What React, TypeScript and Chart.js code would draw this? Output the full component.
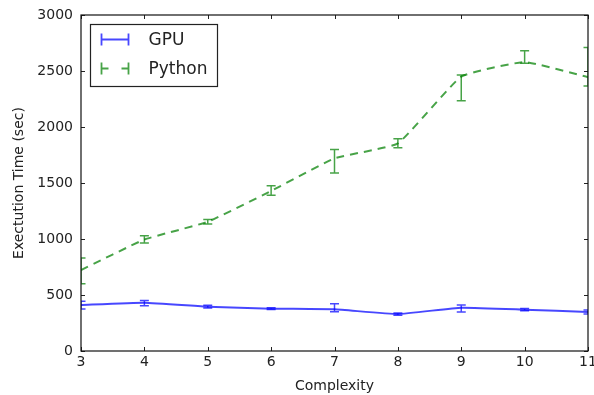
import React, { useEffect, useRef } from "react";
import { Chart, registerables } from "chart.js";

Chart.register(...registerables);

const complexity = [3, 4, 5, 6, 7, 8, 9, 10, 11];

const gpuMean = [411, 431, 396, 378, 372, 330, 387, 369, 348];
const gpuLow = [375, 405, 385, 370, 350, 320, 348, 360, 330];
const gpuHigh = [445, 450, 408, 386, 422, 340, 410, 380, 365];

const pyMean = [723, 995, 1154, 1429, 1720, 1854, 2450, 2580, 2445];
const pyLow = [600, 965, 1135, 1390, 1590, 1815, 2235, 2570, 2365];
const pyHigh = [830, 1030, 1175, 1475, 1800, 1895, 2465, 2680, 2710];

const yTicks = [0, 500, 1000, 1500, 2000, 2500, 3000];
const xTicks = complexity;

const legendLabels = ["GPU", "Python"];

const BLUE = "rgba(0,0,255,0.72)";
const GREEN = "rgba(0,128,0,0.72)";
const FONT = "'DejaVu Sans', sans-serif";

const frameTicksPlugin = {
  id: "frameTicks",
  afterDraw(chart: any) {
    const { ctx, chartArea } = chart;
    const { left, right, top, bottom } = chartArea;
    const xs = chart.scales.x;
    const ys = chart.scales.y;
    ctx.save();
    ctx.strokeStyle = "#222";
    ctx.lineWidth = 1;
    const tl = 4;
    ctx.beginPath();
    xTicks.forEach((v) => {
      const px = Math.round(xs.getPixelForValue(v)) + 0.5;
      ctx.moveTo(px, bottom);
      ctx.lineTo(px, bottom - tl);
      ctx.moveTo(px, top);
      ctx.lineTo(px, top + tl);
    });
    yTicks.forEach((v) => {
      const py = Math.round(ys.getPixelForValue(v)) + 0.5;
      ctx.moveTo(left, py);
      ctx.lineTo(left + tl, py);
      ctx.moveTo(right, py);
      ctx.lineTo(right - tl, py);
    });
    ctx.stroke();
    ctx.lineWidth = 1.2;
    ctx.strokeStyle = "#111";
    ctx.strokeRect(left, top, right - left, bottom - top);
    ctx.restore();
  },
};

const errorBarPlugin = {
  id: "errorBars",
  afterDatasetsDraw(chart: any) {
    const { ctx, chartArea } = chart;
    const xs = chart.scales.x;
    const ys = chart.scales.y;
    ctx.save();
    ctx.beginPath();
    ctx.rect(chartArea.left, chartArea.top, chartArea.right - chartArea.left, chartArea.bottom - chartArea.top);
    ctx.clip();
    chart.data.datasets.forEach((ds: any) => {
      const lows: number[] = ds.errLow;
      const highs: number[] = ds.errHigh;
      ctx.strokeStyle = ds.borderColor;
      ctx.lineWidth = 1.5;
      ctx.setLineDash([]);
      ds.data.forEach((pt: any, i: number) => {
        const px = xs.getPixelForValue(pt.x);
        const pl = ys.getPixelForValue(lows[i]);
        const ph = ys.getPixelForValue(highs[i]);
        const cw = 4.5;
        ctx.beginPath();
        ctx.moveTo(px, pl);
        ctx.lineTo(px, ph);
        ctx.moveTo(px - cw, pl);
        ctx.lineTo(px + cw, pl);
        ctx.moveTo(px - cw, ph);
        ctx.lineTo(px + cw, ph);
        ctx.stroke();
      });
    });
    ctx.restore();
  },
};

const legendPlugin = {
  id: "customLegend",
  afterDraw(chart: any) {
    const { ctx, chartArea } = chart;
    const bx = chartArea.left + 9.5;
    const by = chartArea.top + 9.5;
    const bw = 127;
    const bh = 62;
    ctx.save();
    ctx.fillStyle = "#fff";
    ctx.fillRect(bx, by, bw, bh);
    ctx.strokeStyle = "#222";
    ctx.lineWidth = 1.2;
    ctx.strokeRect(bx, by, bw, bh);
    const rows = [
      { y: by + 15, color: BLUE, dashed: false, label: legendLabels[0] },
      { y: by + 44, color: GREEN, dashed: true, label: legendLabels[1] },
    ];
    rows.forEach((r) => {
      const x0 = bx + 11;
      const x1 = bx + 38;
      ctx.strokeStyle = r.color;
      ctx.lineWidth = 1.8;
      ctx.beginPath();
      if (r.dashed) {
        ctx.moveTo(x0, r.y);
        ctx.lineTo(x0 + 7, r.y);
        ctx.moveTo(x1 - 7, r.y);
        ctx.lineTo(x1, r.y);
      } else {
        ctx.moveTo(x0, r.y);
        ctx.lineTo(x1, r.y);
      }
      ctx.moveTo(x0, r.y - 6);
      ctx.lineTo(x0, r.y + 6);
      ctx.moveTo(x1, r.y - 6);
      ctx.lineTo(x1, r.y + 6);
      ctx.stroke();
      ctx.fillStyle = "#222";
      ctx.font = `17px ${FONT}`;
      ctx.textBaseline = "middle";
      ctx.textAlign = "left";
      ctx.fillText(r.label, bx + 58, r.y + 1);
    });
    ctx.restore();
  },
};

export default function App() {
  const ref = useRef<HTMLCanvasElement | null>(null);
  useEffect(() => {
    if (!ref.current) return;
    const chart = new Chart(ref.current, {
      type: "line",
      data: {
        datasets: [
          {
            label: legendLabels[0],
            data: complexity.map((c, i) => ({ x: c, y: gpuMean[i] })),
            borderColor: BLUE,
            borderWidth: 2,
            pointRadius: 0,
            tension: 0.12,
            fill: false,
            errLow: gpuLow,
            errHigh: gpuHigh,
          } as any,
          {
            label: legendLabels[1],
            data: complexity.map((c, i) => ({ x: c, y: pyMean[i] })),
            borderColor: GREEN,
            borderWidth: 2,
            borderDash: [8, 6],
            pointRadius: 0,
            tension: 0.12,
            fill: false,
            errLow: pyLow,
            errHigh: pyHigh,
          } as any,
        ],
      },
      options: {
        animation: false,
        responsive: false,
        layout: { padding: { left: 0, right: 6, top: 15, bottom: 0 } },
        plugins: {
          legend: { display: false },
          tooltip: { enabled: false },
        },
        scales: {
          x: {
            type: "linear",
            min: 3,
            max: 11,
            afterBuildTicks: (scale: any) => {
              scale.ticks = xTicks.map((v) => ({ value: v }));
            },
            afterFit: (scale: any) => {
              scale.height = 44;
              scale.paddingLeft = 0;
              scale.paddingRight = 0;
            },
            grid: { display: false, drawTicks: false },
            border: { display: false },
            ticks: {
              autoSkip: false,
              maxRotation: 0,
              padding: 3,
              color: "#222",
              font: { family: FONT, size: 14 },
              callback: (v: any) => String(v),
            },
            title: {
              display: true,
              text: "Complexity",
              color: "#222",
              font: { family: FONT, size: 14 },
              padding: { top: 1, bottom: 0 },
            },
          },
          y: {
            type: "linear",
            min: 0,
            max: 3000,
            afterBuildTicks: (scale: any) => {
              scale.ticks = yTicks.map((v) => ({ value: v }));
            },
            afterFit: (scale: any) => {
              scale.width = 81;
              scale.paddingTop = 0;
              scale.paddingBottom = 0;
            },
            grid: { display: false, drawTicks: false },
            border: { display: false },
            ticks: {
              padding: 8,
              color: "#222",
              font: { family: FONT, size: 14 },
              callback: (v: any) => String(v),
            },
            title: {
              display: true,
              text: "Exectution Time (sec)",
              color: "#222",
              font: { family: FONT, size: 14 },
              padding: { top: 11, bottom: 0 },
            },
          },
        },
      } as any,
      plugins: [errorBarPlugin, frameTicksPlugin, legendPlugin],
    });
    return () => chart.destroy();
  }, []);
  return (
    <div style={{ position: "absolute", left: 0, top: 0, width: 594, height: 395, background: "#fff" }}>
      <canvas ref={ref} width={594} height={395} />
    </div>
  );
}
